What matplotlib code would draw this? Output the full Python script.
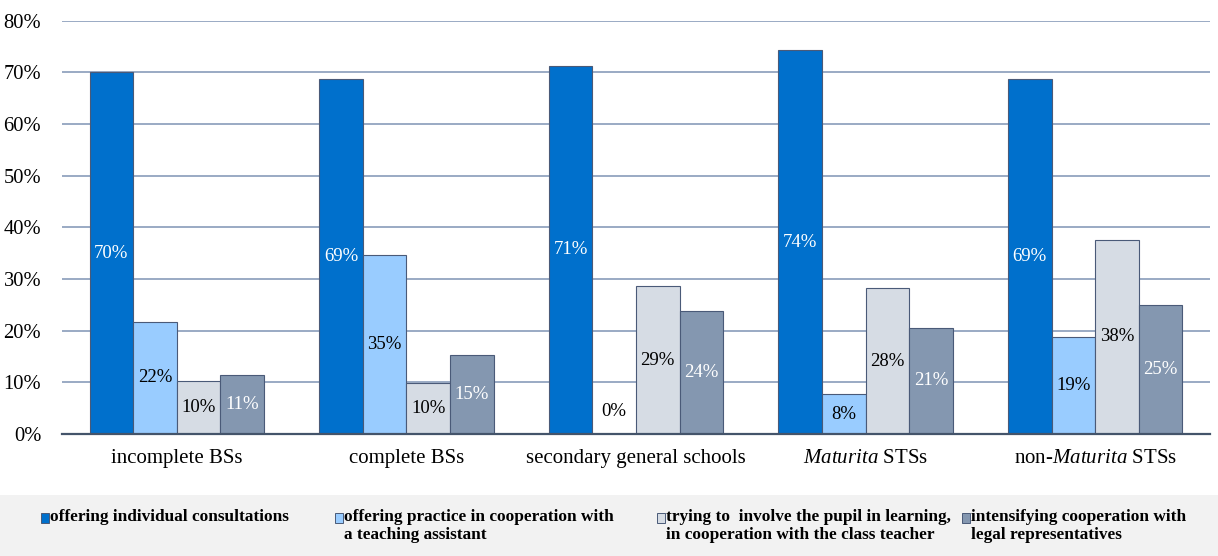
import matplotlib as mpl
mpl.use("Agg")
import matplotlib.pyplot as plt
import numpy as np
from matplotlib.patches import Rectangle

plt.rcParams['font.family'] = ['Liberation Serif', 'DejaVu Serif']
plt.rcParams['mathtext.fontset'] = 'custom'
plt.rcParams['mathtext.rm'] = 'Liberation Serif'
plt.rcParams['mathtext.it'] = 'Liberation Serif:italic'

# data (percent)
categories = ['incomplete BSs', 'complete BSs', 'secondary general schools',
              r'$\mathit{Maturita}$ STSs', r'non-$\mathit{Maturita}$ STSs']
series_names = ['offering individual consultations',
                'offering practice in cooperation with\na teaching assistant',
                'trying to  involve the pupil in learning,\nin cooperation with the class teacher',
                'intensifying cooperation with\nlegal representatives']
consultations = [70.0, 68.7, 71.3, 74.3, 68.7]
assistant = [21.7, 34.6, 0.0, 7.7, 18.7]
class_teacher = [10.2, 9.8, 28.6, 28.2, 37.6]
legal_reps = [11.4, 15.3, 23.8, 20.6, 24.9]
yticks = [0, 10, 20, 30, 40, 50, 60, 70, 80]

series = [consultations, assistant, class_teacher, legal_reps]
colors = ['#0070CC', '#99CCFF', '#D6DCE4', '#8497B0']
text_colors = ['white', 'black', 'black', 'white']

fig = plt.figure(figsize=(12.18, 5.56), dpi=100)
ax = fig.add_axes([0.0509, 0.2194, 0.9425, 0.7434])

x = np.arange(len(categories))
w = 0.19
for k, vals in enumerate(series):
    pos = x + (k - 1.5) * w
    ax.bar(pos, vals, width=w, color=colors[k], edgecolor='#4A5A78',
           linewidth=0.8, zorder=3)
    for px, v in zip(pos, vals):
        ty = v / 2 if v > 0 else 4.3
        ax.text(px, ty, '{}%'.format(int(round(v))), ha='center', va='center',
                fontsize=13.5, color=text_colors[k], zorder=4)

ax.set_xlim(-0.5, len(categories) - 0.5)
ax.set_ylim(0, 80)
ax.set_yticks(yticks)
ax.set_yticklabels(['{}%'.format(t) for t in yticks], fontsize=14.8)
ax.set_xticks(x)
ax.set_xticklabels(categories, fontsize=15)
ax.tick_params(axis='both', length=0)
ax.tick_params(axis='y', pad=15)
ax.tick_params(axis='x', pad=11)
ax.yaxis.grid(True, color='#9AAAC4', linewidth=1.4, zorder=0)
for s in ['top', 'right', 'left']:
    ax.spines[s].set_visible(False)
ax.spines['bottom'].set_color('#44546A')
ax.spines['bottom'].set_linewidth(1.6)
ax.spines['bottom'].set_zorder(5)

# legend band
fig.add_artist(Rectangle((0, 0), 1, 61.5 / 556, transform=fig.transFigure,
                         facecolor='#F2F2F2', edgecolor='none', zorder=0))
leg_x = [41, 335, 657, 962]
for k, name in enumerate(series_names):
    fig.add_artist(Rectangle((leg_x[k] / 1218, (556 - 523) / 556), 8 / 1218, 10 / 556,
                             transform=fig.transFigure, facecolor=colors[k],
                             edgecolor='#4A5A78', linewidth=0.7))
    fig.text((leg_x[k] + 9) / 1218, (556 - 509) / 556, name, ha='left', va='top',
             fontsize=12.4, fontweight='bold', linespacing=1.2)

fig.savefig('out.png', dpi=100)
